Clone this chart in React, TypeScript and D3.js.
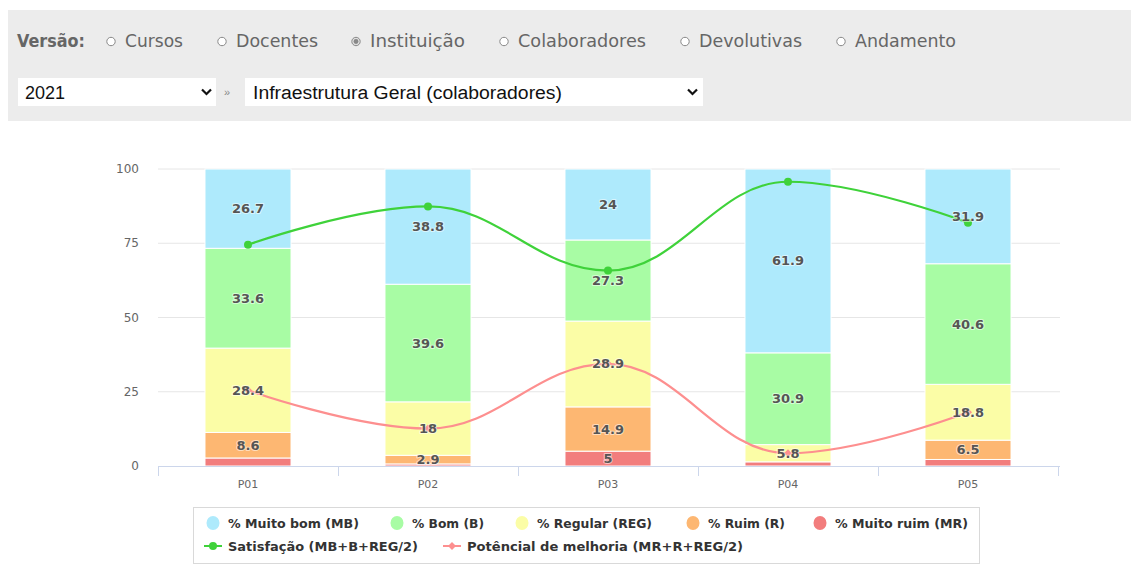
import React from "react";
import * as d3 from "d3";

const categories = ["P01", "P02", "P03", "P04", "P05"];
const muitoBom = [26.7, 38.8, 24, 61.9, 31.9];
const bom = [33.6, 39.6, 27.3, 30.9, 40.6];
const regular = [28.4, 18, 28.9, 5.8, 18.8];
const ruim = [8.6, 2.9, 14.9, 0, 6.5];
const muitoRuim = [2.7, 0.7, 5, 1.4, 2.2];
const satisfacao = [74.5, 87.4, 65.8, 95.7, 81.9];
const potencial = [25.5, 12.6, 34.4, 4.3, 18.1];
const yTicks = [0, 25, 50, 75, 100];

const versaoOptions = ["Cursos", "Docentes", "Instituição", "Colaboradores", "Devolutivas", "Andamento"];
const versaoSelected = "Instituição";
const yearValue = "2021";
const topicValue = "Infraestrutura Geral (colaboradores)";

const stackKeys = ["mr", "r", "reg", "b", "mb"];
const seriesNames: Record<string, string> = {
  mb: "% Muito bom (MB)",
  b: "% Bom (B)",
  reg: "% Regular (REG)",
  r: "% Ruim (R)",
  mr: "% Muito ruim (MR)",
};
const colors: Record<string, string> = {
  mb: "#aeeafc",
  b: "#a8fca4",
  reg: "#fbfda6",
  r: "#fdb772",
  mr: "#f27d7d",
};
const lineNames = ["Satisfação (MB+B+REG/2)", "Potêncial de melhoria (MR+R+REG/2)"];
const lineColors = ["#3fd23a", "#fd8f8f"];

const W = 1131;
const H = 584;
const plot = { left: 158, right: 1058, top: 169, bottom: 466 };

function hcSpline(pts: [number, number][]) {
  const smoothing = 1.5;
  const denom = smoothing + 1;
  const n = pts.length;
  const ctrl = pts.map((p, i) => {
    if (i === 0 || i === n - 1) return { lx: p[0], ly: p[1], rx: p[0], ry: p[1] };
    const [x, y] = p;
    const [px, py] = pts[i - 1];
    const [nx, ny] = pts[i + 1];
    const lcx = (smoothing * x + px) / denom;
    let lcy = (smoothing * y + py) / denom;
    const rcx = (smoothing * x + nx) / denom;
    let rcy = (smoothing * y + ny) / denom;
    if (rcx !== lcx) {
      const corr = ((rcy - lcy) * (rcx - x)) / (rcx - lcx) + y - rcy;
      lcy += corr;
      rcy += corr;
    }
    if (lcy > py && lcy > y) {
      lcy = Math.max(py, y);
      rcy = 2 * y - lcy;
    } else if (lcy < py && lcy < y) {
      lcy = Math.min(py, y);
      rcy = 2 * y - lcy;
    }
    if (rcy > ny && rcy > y) {
      rcy = Math.max(ny, y);
      lcy = 2 * y - rcy;
    } else if (rcy < ny && rcy < y) {
      rcy = Math.min(ny, y);
      lcy = 2 * y - rcy;
    }
    return { lx: lcx, ly: lcy, rx: rcx, ry: rcy };
  });
  const path = d3.path();
  path.moveTo(pts[0][0], pts[0][1]);
  for (let i = 1; i < n; i++) {
    path.bezierCurveTo(ctrl[i - 1].rx, ctrl[i - 1].ry, ctrl[i].lx, ctrl[i].ly, pts[i][0], pts[i][1]);
  }
  return path.toString();
}

export default function App() {
  const x = d3.scaleBand<string>().domain(categories).range([plot.left, plot.right]).padding(0);
  const y = d3.scaleLinear().domain([0, 100]).range([plot.bottom, plot.top]);
  const barW = x.bandwidth() * 0.478;

  const rows = categories.map((c, i) => ({
    cat: c,
    mb: muitoBom[i],
    b: bom[i],
    reg: regular[i],
    r: ruim[i],
    mr: muitoRuim[i],
  }));
  const stacked = d3.stack<any>().keys(stackKeys)(rows);

  const cx = (c: string) => (x(c) as number) + x.bandwidth() / 2;
  const satPts = categories.map((c, i) => [cx(c), y(satisfacao[i])] as [number, number]);
  const potPts = categories.map((c, i) => [cx(c), y(potencial[i])] as [number, number]);

  const headerFont = "'DejaVu Sans', Verdana, sans-serif";
  const chartFont = "'DejaVu Sans', Verdana, sans-serif";

  const radioX = [111, 222, 356, 504, 685, 841];
  const radioW = [58, 82, 95, 128, 103, 101];

  const legendRow1X = [213, 397, 522, 693, 820];
  const legendRow1W = [131, 72, 115, 77, 133];
  const legendRow2X = [213, 452];
  const legendRow2W = [190, 276];

  const diamond = (cxp: number, cyp: number, r: number) =>
    `M${cxp},${cyp - r}L${cxp + r},${cyp}L${cxp},${cyp + r}L${cxp - r},${cyp}Z`;

  return (
    <svg
      width={W}
      height={H}
      style={{ position: "absolute", left: 0, top: 0, display: "block", background: "#fff" }}
    >
      <rect x={8} y={10} width={W - 8} height={111} fill="#ececec" />
      <text x={17} y={47} fontFamily={headerFont} fontSize={17} fontWeight="bold" fill="#666" textLength={68} lengthAdjust="spacingAndGlyphs">
        Versão:
      </text>
      {versaoOptions.map((o, i) => (
        <g key={o}>
          <circle cx={radioX[i]} cy={41.5} r={4.2} fill={o === versaoSelected ? "#ddd" : "#fff"} stroke="#888" strokeWidth={1} />
          {o === versaoSelected && <circle cx={radioX[i]} cy={41.5} r={2.4} fill="#888" />}
          <text x={radioX[i] + 14} y={47} fontFamily={headerFont} fontSize={17} fill="#666" textLength={radioW[i]} lengthAdjust="spacingAndGlyphs">
            {o}
          </text>
        </g>
      ))}
      <rect x={18} y={78} width={198} height={28} fill="#fff" />
      <text x={25} y={99} fontFamily="'Liberation Sans', Arial, sans-serif" fontSize={18} fill="#111">
        {yearValue}
      </text>
      <path d="M202,89.5L206.5,94L211,89.5" fill="none" stroke="#111" strokeWidth={2.2} />
      <text x={224} y={96} fontFamily="'Liberation Sans', Arial, sans-serif" fontSize={11} fill="#888">
        »
      </text>
      <rect x={245} y={78} width={458} height={28} fill="#fff" />
      <text x={253} y={99} fontFamily="'Liberation Sans', Arial, sans-serif" fontSize={18} fill="#111" textLength={309} lengthAdjust="spacingAndGlyphs">
        {topicValue}
      </text>
      <path d="M688,89.5L692.5,94L697,89.5" fill="none" stroke="#111" strokeWidth={2.2} />

      {yTicks.map((t) => (
        <g key={t}>
          {t !== 0 && <line x1={plot.left} x2={plot.right + 2} y1={y(t)} y2={y(t)} stroke="#e6e6e6" strokeWidth={1} />}
          <text x={139} y={y(t) + 4} textAnchor="end" fontFamily={chartFont} fontSize={12} fill="#666">
            {t}
          </text>
        </g>
      ))}

      {stacked.map((s) => (
        <g key={s.key}>
          {s.map((d, i) => {
            const y0 = y(d[0]);
            const y1 = y(Math.min(d[1], 100));
            if (d[1] - d[0] <= 0) return null;
            return (
              <rect
                key={i}
                x={cx(categories[i]) - barW / 2}
                y={y1}
                width={barW}
                height={Math.max(0, y0 - y1)}
                fill={colors[s.key]}
                stroke="#fff"
                strokeWidth={1}
              />
            );
          })}
        </g>
      ))}

      <line x1={plot.left} x2={plot.right + 2} y1={plot.bottom + 0.5} y2={plot.bottom + 0.5} stroke="#ccd6eb" strokeWidth={1} />
      {d3.range(categories.length + 1).map((i) => {
        const xx = i < categories.length ? (x(categories[i]) as number) : plot.right;
        return <line key={i} x1={xx + 0.5} x2={xx + 0.5} y1={plot.bottom} y2={plot.bottom + 10} stroke="#ccd6eb" strokeWidth={1} />;
      })}
      {categories.map((c) => (
        <text key={c} x={cx(c)} y={488} textAnchor="middle" fontFamily={chartFont} fontSize={11} fill="#666">
          {c}
        </text>
      ))}

      <path d={hcSpline(satPts)} fill="none" stroke={lineColors[0]} strokeWidth={2.2} />
      {satPts.map((p, i) => (
        <circle key={i} cx={p[0]} cy={p[1]} r={4} fill={lineColors[0]} />
      ))}
      <path d={hcSpline(potPts)} fill="none" stroke={lineColors[1]} strokeWidth={2.2} />
      {potPts.map((p, i) => (
        <path key={i} d={diamond(p[0], p[1], 4)} fill={lineColors[1]} />
      ))}

      {stacked.map((s) => (
        <g key={"l" + s.key}>
          {s.map((d, i) => {
            const v = d[1] - d[0];
            if (v < 2.8) return null;
            const ym = (y(d[0]) + y(Math.min(d[1], 100))) / 2;
            return (
              <text
                key={i}
                x={cx(categories[i])}
                y={ym + 4.5}
                textAnchor="middle"
                fontFamily={chartFont}
                fontSize={13}
                fontWeight="bold"
                fill="#555"
                stroke="rgba(255,255,255,0.55)"
                strokeWidth={2}
                paintOrder="stroke"
                strokeLinejoin="round"
              >
                {d3.format("~")(Math.round(v * 10) / 10)}
              </text>
            );
          })}
        </g>
      ))}

      <rect x={193.5} y={507.5} width={786} height={56} fill="#fff" stroke="#d9d9d9" strokeWidth={1} />
      {["mb", "b", "reg", "r", "mr"].map((k, i) => (
        <g key={k}>
          <ellipse cx={legendRow1X[i]} cy={523} rx={6.5} ry={7} fill={colors[k]} />
          <text x={legendRow1X[i] + 15} y={528} fontFamily={chartFont} fontSize={12} fontWeight="bold" fill="#333" textLength={legendRow1W[i]} lengthAdjust="spacingAndGlyphs">
            {seriesNames[k]}
          </text>
        </g>
      ))}
      {lineNames.map((n, i) => (
        <g key={n}>
          <line x1={legendRow2X[i] - 9} x2={legendRow2X[i] + 9} y1={546} y2={546} stroke={lineColors[i]} strokeWidth={2} />
          {i === 0 ? (
            <circle cx={legendRow2X[i]} cy={546} r={4} fill={lineColors[i]} />
          ) : (
            <path d={diamond(legendRow2X[i], 546, 4)} fill={lineColors[i]} />
          )}
          <text x={legendRow2X[i] + 15} y={551} fontFamily={chartFont} fontSize={12} fontWeight="bold" fill="#333" textLength={legendRow2W[i]} lengthAdjust="spacingAndGlyphs">
            {n}
          </text>
        </g>
      ))}
    </svg>
  );
}
